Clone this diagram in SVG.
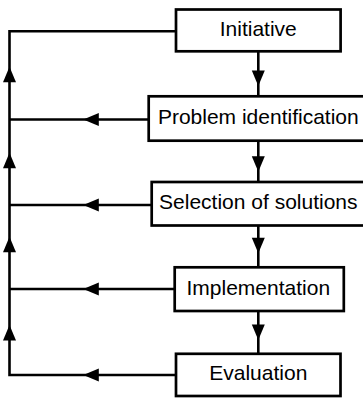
<svg xmlns="http://www.w3.org/2000/svg" xmlns:xlink="http://www.w3.org/1999/xlink" width="363" height="398" viewBox="0 0 363 398">
  <style>
    .box { fill: #fff; stroke: #000; stroke-width: 2.7; }
    .lbl { font-family: "Liberation Sans", Arial, Helvetica, sans-serif; font-size: 21px; fill: #000; text-anchor: middle; }
    .wire { fill: none; stroke: #000; stroke-width: 2.6; stroke-linejoin: miter; }
    .head { fill: #000; stroke: none; }
  </style>
  <defs>
    <!-- arrowhead pointing along +x, tip at origin -->
    <path id="ah" class="head" d="M0,0 L-15.5,-6.5 L-15.5,6.5 Z"/>
  </defs>
  <rect width="363" height="398" fill="#fff"/>

  <g id="connectors">
    <!-- feedback loop on the left -->
    <path class="wire" d="M176,31.3 H9.5 V375 H176"/>
    <path class="wire" d="M148.7,119.5 H9.5"/>
    <path class="wire" d="M151.7,205 H9.5"/>
    <path class="wire" d="M174.7,289 H9.5"/>
    <use xlink:href="#ah" transform="translate(9.5,66.7) rotate(-90)"/>
    <use xlink:href="#ah" transform="translate(9.5,152.7) rotate(-90)"/>
    <use xlink:href="#ah" transform="translate(9.5,236.7) rotate(-90)"/>
    <use xlink:href="#ah" transform="translate(9.5,325) rotate(-90)"/>
    <use xlink:href="#ah" transform="translate(83.3,119.5) rotate(180)"/>
    <use xlink:href="#ah" transform="translate(83.3,205) rotate(180)"/>
    <use xlink:href="#ah" transform="translate(83.3,289) rotate(180)"/>
    <use xlink:href="#ah" transform="translate(83.3,375) rotate(180)"/>
    <!-- main downward flow -->
    <path class="wire" d="M258.3,51.3 V96.3"/>
    <path class="wire" d="M258.3,140.7 V182"/>
    <path class="wire" d="M258.3,225.5 V267.3"/>
    <path class="wire" d="M258.3,311 V353.8"/>
    <use xlink:href="#ah" transform="translate(258.3,86) rotate(90)"/>
    <use xlink:href="#ah" transform="translate(258.3,171.7) rotate(90)"/>
    <use xlink:href="#ah" transform="translate(258.3,253.3) rotate(90)"/>
    <use xlink:href="#ah" transform="translate(258.3,340) rotate(90)"/>
  </g>

  <g id="initiative">
    <rect class="box" x="176" y="9.5" width="164.6" height="41.8"/>
    <text class="lbl" x="258.3" y="36">Initiative</text>
  </g>
  <g id="problem-identification">
    <rect class="box" x="148.7" y="96.3" width="219.2" height="44.4"/>
    <text class="lbl" x="258.3" y="124">Problem identification</text>
  </g>
  <g id="selection-of-solutions">
    <rect class="box" x="151.7" y="182" width="213.2" height="43.5"/>
    <text class="lbl" x="258.3" y="209.3">Selection of solutions</text>
  </g>
  <g id="implementation">
    <rect class="box" x="174.7" y="267.3" width="169.1" height="43.7"/>
    <text class="lbl" x="258.3" y="294.7">Implementation</text>
  </g>
  <g id="evaluation">
    <rect class="box" x="176" y="353.8" width="164.5" height="42.2"/>
    <text class="lbl" x="258.3" y="380.4">Evaluation</text>
  </g>
</svg>
